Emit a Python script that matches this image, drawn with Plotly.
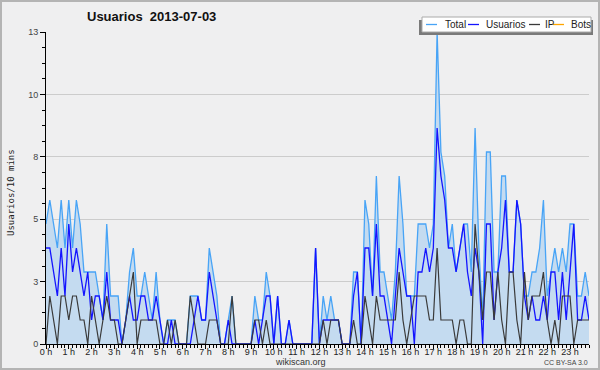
import plotly.graph_objects as go

title_text = "Usuarios  2013-07-03"
y_title = "Usuarios/10 mins"
series_names = ["Total", "Usuarios", "IP", "Bots"]
hour_labels = [f"{h} h" for h in range(24)]
y_tick_vals = [0, 2.6, 5.2, 7.8, 10.4, 13]
y_tick_text = ["0", "3", "5", "8", "10", "13"]

total = [5,6,5,4,6,4,6,4,6,5,
         3,3,3,3,2,1,5,2,2,2,
         0,1,3,4,2,2,3,2,1,3,
         1,0,1,1,1,0,0,0,2,2,
         2,1,1,4,3,2,0,0,1,2,
         0,0,0,0,0,2,1,1,3,2,
         0,2,0,0,1,0,0,0,0,0,
         0,4,0,2,1,2,1,1,0,0,
         0,3,3,0,6,5,2,7,3,3,
         2,1,3,7,5,2,2,2,5,5,
         5,4,5,13,8,7,4,5,3,4,
         5,5,3,9,4,1,8,8,3,3,
         7,7,3,3,6,5,2,2,3,3,
         4,6,2,3,4,3,4,3,5,5,
         2,2,3,2]
usuarios = [4,4,3,2,4,2,5,3,4,3,
            2,3,1,2,2,1,3,1,1,1,
            0,1,2,1,1,2,2,1,1,2,
            1,0,0,1,0,0,0,0,0,1,
            2,1,1,3,2,1,0,0,1,0,
            0,0,0,0,0,1,0,1,2,2,
            0,2,0,0,1,0,0,0,0,0,
            0,4,0,1,1,1,1,1,0,0,
            0,2,3,0,4,4,2,5,2,2,
            1,0,2,4,3,2,2,0,3,3,
            4,3,4,9,7,6,4,4,3,4,
            5,3,2,4,3,0,5,5,1,3,
            4,6,3,3,6,5,2,1,2,1,
            1,2,1,3,3,1,3,1,3,5,
            1,1,2,1]
ip = [0,2,1,0,2,2,1,2,2,1,
      1,0,2,1,0,1,2,1,1,0,
      0,1,2,3,0,1,1,1,1,1,
      0,0,1,0,1,0,0,0,2,1,
      0,0,0,1,1,1,0,0,0,2,
      0,0,0,0,0,1,1,0,1,0,
      0,0,0,0,0,0,0,0,0,0,
      0,0,0,1,0,1,1,1,0,0,
      0,1,0,0,2,1,0,2,1,1,
      1,1,1,3,1,0,1,2,2,2,
      2,1,1,4,1,1,1,1,0,1,
      1,0,0,5,3,1,3,3,1,3,
      1,0,3,3,1,0,3,1,2,2,
      2,3,1,0,1,0,2,2,2,0,
      1,1,1,1]
bots = [0]*144
slots = list(range(144))

C_TOTAL = "#48a4f6"
C_FILL = "#c4dbf0"
C_USER = "#1414ff"
C_IP = "#3a3a3a"
C_BOTS = "#ffa500"
BG = "#efeff0"
FONT = "Liberation Sans"

fig = go.Figure()
fig.add_trace(go.Scatter(x=slots, y=bots, mode="lines", line=dict(color=C_BOTS, width=1.2),
                         name=series_names[3], showlegend=False))
fig.add_trace(go.Scatter(x=slots, y=total, mode="lines", fill="tozeroy", fillcolor=C_FILL,
                         line=dict(color=C_TOTAL, width=1.3), name=series_names[0], showlegend=False))
fig.add_trace(go.Scatter(x=slots, y=usuarios, mode="lines", line=dict(color=C_USER, width=1.3),
                         name=series_names[1], showlegend=False))
fig.add_trace(go.Scatter(x=slots, y=ip, mode="lines", line=dict(color=C_IP, width=1.2),
                         name=series_names[2], showlegend=False))

W, H = 600, 370
L, R, T, B = 46, 11, 32, 26
pw, ph = W - L - R, H - T - B

def px(x):
    return (x - L) / pw

def py(y):
    return (H - B - y) / ph

shapes = []
annotations = []
# outer border
shapes.append(dict(type="rect", xref="paper", yref="paper", x0=px(1), x1=px(599), y0=py(369), y1=py(1),
                   line=dict(color="#b4b4b4", width=2), layer="above"))
# legend shadow + box
shapes.append(dict(type="rect", xref="paper", yref="paper", x0=px(419), x1=px(593), y0=py(35), y1=py(20),
                   fillcolor="#7a7a7a", line=dict(width=0), layer="above"))
shapes.append(dict(type="rect", xref="paper", yref="paper", x0=px(422), x1=px(591), y0=py(32), y1=py(17),
                   fillcolor="#ffffff", line=dict(color="#aaaaaa", width=1), layer="above"))
legend_colors = [C_TOTAL, C_USER, C_IP, C_BOTS]
legend_x = [426, 468, 529, 553]
legend_tx = [443, 484, 543, 569]
for name, col, lx, tx in zip(series_names, legend_colors, legend_x, legend_tx):
    shapes.append(dict(type="line", xref="paper", yref="paper", x0=px(lx), x1=px(lx + 11),
                       y0=py(24.5), y1=py(24.5), line=dict(color=col, width=1.3), layer="above"))
    annotations.append(dict(text=name, xref="paper", yref="paper", x=px(tx), y=py(24.5),
                            xanchor="left", yanchor="middle", showarrow=False,
                            font=dict(family=FONT, size=10, color="#222222")))

annotations.append(dict(text=f"<b>{title_text}</b>", xref="paper", yref="paper", x=px(151), y=py(17),
                        xanchor="center", yanchor="middle", showarrow=False,
                        font=dict(family=FONT, size=13, color="#111111")))
annotations.append(dict(text=y_title, xref="paper", yref="paper", x=px(11), y=py(193),
                        xanchor="center", yanchor="middle", showarrow=False, textangle=-90,
                        font=dict(family="DejaVu Sans Mono", size=9, color="#222222")))
annotations.append(dict(text="wikiscan.org", xref="paper", yref="paper", x=px(300), y=py(362),
                        xanchor="center", yanchor="middle", showarrow=False,
                        font=dict(family=FONT, size=9, color="#333333")))
annotations.append(dict(text="CC BY-SA 3.0", xref="paper", yref="paper", x=px(590), y=py(362),
                        xanchor="right", yanchor="middle", showarrow=False,
                        font=dict(family=FONT, size=7, color="#444444")))

fig.update_layout(
    width=W, height=H,
    margin=dict(l=L, r=R, t=T, b=B, pad=0),
    paper_bgcolor=BG, plot_bgcolor=BG,
    showlegend=False,
    shapes=shapes, annotations=annotations,
    xaxis=dict(range=[0, 143], tickmode="array", tickvals=list(range(0, 144, 6)), ticktext=hour_labels,
               showgrid=False, zeroline=False, showline=True, linecolor="#000000", linewidth=1,
               ticks="outside", ticklen=4, tickcolor="#000000", tickwidth=1,
               tickfont=dict(family=FONT, size=9, color="#222222"),
               ticklabelstandoff=-5,
               minor=dict(dtick=1, tick0=0, ticks="outside", ticklen=3, tickcolor="#000000", showgrid=False),
               fixedrange=True),
    yaxis=dict(range=[0, 13], tickmode="array", tickvals=y_tick_vals, ticktext=y_tick_text,
               showgrid=True, gridcolor="#cccccc", gridwidth=1, zeroline=False,
               showline=True, linecolor="#000000", linewidth=1,
               ticks="outside", ticklen=5, tickcolor="#000000",
               tickfont=dict(family=FONT, size=9, color="#444444"),
               minor=dict(dtick=0.65, tick0=0, ticks="outside", ticklen=3, tickcolor="#000000", showgrid=False),
               fixedrange=True),
)

fig.write_html("out.html", config={"displayModeBar": False, "staticPlot": True},
               post_script="document.body.style.margin='0';document.body.style.overflow='hidden';")
